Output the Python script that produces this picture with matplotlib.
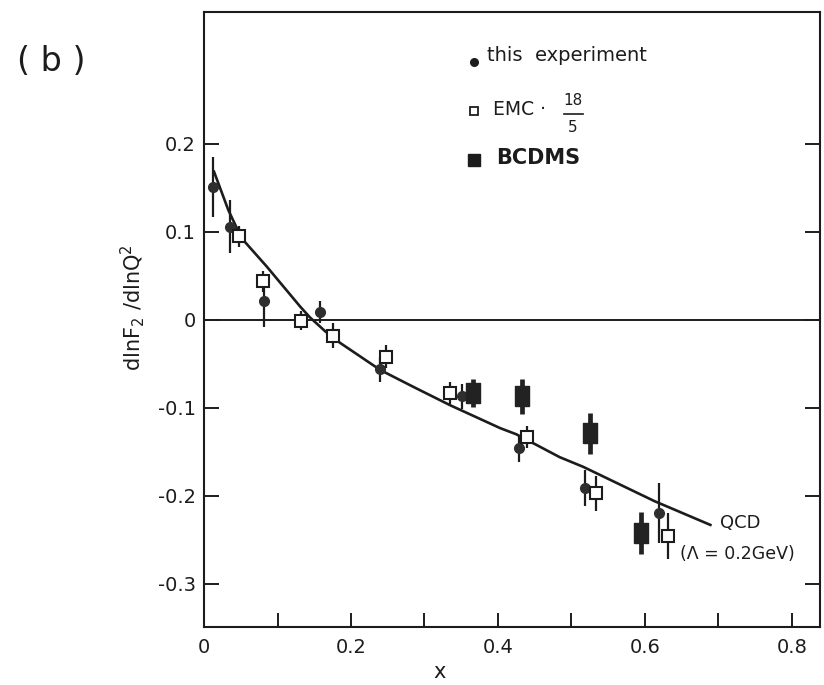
import matplotlib
matplotlib.use("Agg")
import matplotlib.pyplot as plt
from matplotlib.ticker import MultipleLocator, FixedLocator

plt.rcParams['font.family'] = ['DejaVu Sans']

# this experiment (filled circles)
exp_x = [0.012, 0.035, 0.082, 0.158, 0.239, 0.351, 0.428, 0.518, 0.619]
exp_y = [0.151, 0.106, 0.022, 0.009, -0.056, -0.087, -0.146, -0.191, -0.219]
exp_err = [0.034, 0.030, 0.030, 0.013, 0.014, 0.014, 0.015, 0.020, 0.034]

# EMC * 18/5 (open squares)
emc_x = [0.047, 0.080, 0.132, 0.176, 0.248, 0.335, 0.440, 0.533, 0.632]
emc_y = [0.095, 0.044, -0.001, -0.018, -0.042, -0.083, -0.133, -0.197, -0.246]
emc_err = [0.012, 0.012, 0.011, 0.014, 0.013, 0.013, 0.013, 0.020, 0.026]

# BCDMS (filled blocks)
bcd_x = [0.366, 0.432, 0.525, 0.595]
bcd_y = [-0.083, -0.087, -0.129, -0.242]
bcd_err = [0.016, 0.020, 0.023, 0.024]

# QCD prediction (Lambda = 0.2 GeV)
qcd_x = [0.0136, 0.033, 0.051, 0.085, 0.108, 0.131, 0.144, 0.165, 0.185,
         0.240, 0.287, 0.335, 0.403, 0.425, 0.484, 0.516, 0.613, 0.689]
qcd_y = [0.1685, 0.125, 0.093, 0.061, 0.038, 0.015, 0.003, -0.013, -0.026,
         -0.057, -0.077, -0.097, -0.123, -0.130, -0.156, -0.167, -0.206, -0.233]

y_ticks = [0.2, 0.1, 0.0, -0.1, -0.2, -0.3]
y_ticklabels = ["0.2", "0.1", "0", "-0.1", "-0.2", "-0.3"]
x_ticks = [0.0, 0.2, 0.4, 0.6, 0.8]
x_ticklabels = ["0", "0.2", "0.4", "0.6", "0.8"]

ink = "#1c1c1c"

fig = plt.figure(figsize=(8.24, 6.85), dpi=100)
ax = fig.add_axes([0.2476, 0.0847, 0.7474, 0.8978])
ax.set_xlim(0, 0.838)
ax.set_ylim(-0.349, 0.35)

ax.axhline(0, color=ink, lw=1.4, zorder=1)
ax.plot(qcd_x, qcd_y, color=ink, lw=1.9, zorder=2)

ax.errorbar(exp_x, exp_y, yerr=exp_err, fmt='o', ms=7, color="#2e2e2e",
            mec="#2e2e2e", ecolor=ink, elinewidth=1.6, capsize=0, zorder=3)
ax.errorbar(emc_x, emc_y, yerr=emc_err, fmt='s', ms=8, mfc='white',
            mec=ink, mew=1.5, ecolor=ink, elinewidth=1.6, capsize=0, zorder=4)

# tall block marker for BCDMS
block = [(-0.32, -0.5), (0.32, -0.5), (0.32, 0.5), (-0.32, 0.5), (-0.32, -0.5)]
ax.errorbar(bcd_x, bcd_y, yerr=bcd_err, fmt='none', ecolor="#222222",
            elinewidth=3.4, capsize=0, zorder=4)
ax.plot(bcd_x, bcd_y, linestyle='none', marker=block, ms=15,
        color="#222222", mec="#222222", zorder=5)

for side in ax.spines.values():
    side.set_linewidth(1.5)
    side.set_color(ink)

ax.yaxis.set_major_locator(FixedLocator(y_ticks))
ax.set_yticklabels(y_ticklabels)
ax.xaxis.set_major_locator(FixedLocator(x_ticks))
ax.set_xticklabels(x_ticklabels)
ax.xaxis.set_minor_locator(MultipleLocator(0.1))
ax.tick_params(axis='both', which='both', direction='in', color=ink,
               labelsize=14, labelcolor=ink, width=1.4)
ax.tick_params(axis='y', which='major', length=11, right=True, pad=6)
ax.tick_params(axis='x', which='both', length=10, pad=8)

ax.set_ylabel(r"dlnF$_2$ /dlnQ$^2$", fontsize=15, color=ink)
ax.yaxis.set_label_coords(-0.092, 0.52)
ax.set_xlabel("x", fontsize=15, color=ink)
ax.xaxis.set_label_coords(0.383, -0.057)

# legend drawn as annotations
ax.plot([0.367], [0.293], 'o', ms=5.5, color=ink)
ax.text(0.385, 0.301, "this  experiment", fontsize=14, color=ink,
        va='center')
ax.plot([0.367], [0.237], 's', ms=6, mfc='white', mec=ink, mew=1.3)
ax.text(0.393, 0.239, "EMC ·", fontsize=13.5, color=ink, va='center')
ax.text(0.502, 0.249, "18", fontsize=11, color=ink, ha='center', va='center')
ax.plot([0.490, 0.515], [0.234, 0.234], color=ink, lw=1.2)
ax.text(0.502, 0.219, "5", fontsize=11, color=ink, ha='center', va='center')
ax.plot([0.367], [0.182], 's', ms=8, color=ink)
ax.text(0.398, 0.184, "BCDMS", fontsize=15, fontweight='bold', color=ink,
        va='center')

ax.text(0.702, -0.231, "QCD", fontsize=13, color=ink, va='center')
ax.text(0.648, -0.266, "(Λ = 0.2GeV)", fontsize=12.5, color=ink, va='center')

fig.text(0.062, 0.9095, "( b )", fontsize=24, color=ink, ha='center',
         va='center')

fig.savefig("out.png", dpi=100)
